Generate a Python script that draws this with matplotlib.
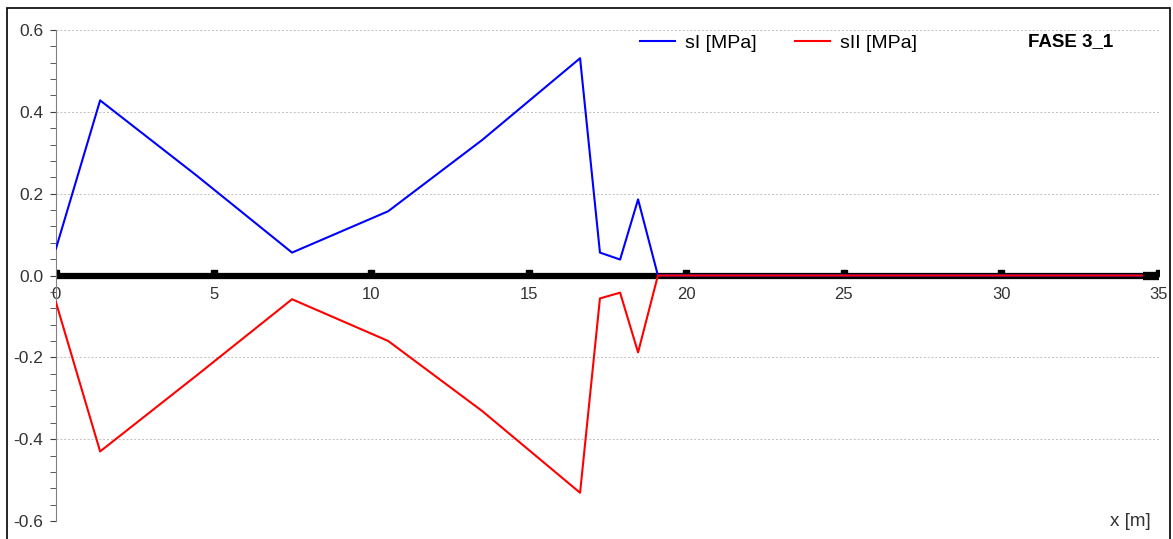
import matplotlib
matplotlib.use("Agg")
import matplotlib.pyplot as plt
from matplotlib.ticker import MultipleLocator
from matplotlib.patches import Rectangle

plt.rcParams['font.family'] = ['Liberation Sans', 'DejaVu Sans']

# dati
x_s1 = [0.0, 1.4, 4.45, 7.49, 10.54, 13.52, 16.63, 17.26, 17.9, 18.47, 19.1, 34.5]
s1 = [0.066, 0.428, 0.245, 0.056, 0.157, 0.331, 0.531, 0.056, 0.039, 0.186, 0.0, 0.0]
x_s2 = [0.0, 1.4, 4.45, 7.49, 10.54, 13.52, 16.63, 17.26, 17.9, 18.47, 19.1, 34.5]
s2 = [-0.066, -0.43, -0.245, -0.058, -0.16, -0.331, -0.531, -0.056, -0.042, -0.188, 0.0, 0.0]
supports = [0, 5, 10, 15, 20, 25, 30, 35]

fig = plt.figure(figsize=(11.73, 5.39), dpi=100)
# bordo esterno
fig.patches.append(Rectangle((7 / 1173, -0.01), 1163 / 1173, 1 - 8 / 539 + 0.01,
                             transform=fig.transFigure, fill=False,
                             edgecolor='black', linewidth=1.2))

ax = fig.add_axes([56 / 1173, 1 - 521 / 539, 1103 / 1173, 491 / 539])

# trave
ax.plot([0, 35], [0, 0], color='black', linewidth=4.5, solid_capstyle='butt', zorder=2)
ax.plot(supports, [0.005] * len(supports), 's', color='black', markersize=4, zorder=2)
ax.plot([34.5, 35], [0, 0], color='black', linewidth=6, solid_capstyle='butt', zorder=5)

ax.plot(x_s1, s1, color='#0000ff', linewidth=1.5, label='sI [MPa]', zorder=3)
ax.plot(x_s2, s2, color='#ff0000', linewidth=1.5, label='sII [MPa]', zorder=4)

ax.set_xlim(0, 35)
ax.set_ylim(-0.6, 0.6)
ax.yaxis.set_major_locator(MultipleLocator(0.2))
ax.yaxis.set_minor_locator(MultipleLocator(0.04))
ax.xaxis.set_major_locator(MultipleLocator(5))
ax.yaxis.set_major_formatter(matplotlib.ticker.FormatStrFormatter('%.1f'))

for s in ['top', 'right']:
    ax.spines[s].set_visible(False)
ax.spines['bottom'].set_position(('data', 0))
ax.spines['bottom'].set_visible(False)
ax.spines['left'].set_color('#808080')

ax.tick_params(axis='y', which='both', direction='out', length=4.3, color='#404040',
               labelsize=12.5, labelcolor='#333333', pad=5)
ax.tick_params(axis='x', length=0, labelsize=12, labelcolor='#333333', pad=8)

ax.grid(axis='y', color='#c0c0c0', linestyle=(0, (2, 2)), linewidth=0.7)
ax.set_axisbelow(True)

ax.legend(loc='upper left', bbox_to_anchor=(640 / 1173, 1 - 34 / 539),
          bbox_transform=fig.transFigure, ncol=2, frameon=False,
          fontsize=14, handlelength=1.8, handletextpad=0.5, columnspacing=2.0,
          borderaxespad=0, borderpad=0)

fig.text(1071 / 1173, 1 - 42 / 539, 'FASE 3_1', fontsize=13.5, fontweight='bold',
         ha='center', va='center')
fig.text(1130 / 1173, 1 - 521 / 539, 'x [m]', fontsize=13.5, color='#333333',
         ha='center', va='center')

fig.savefig('out.png', dpi=100)
